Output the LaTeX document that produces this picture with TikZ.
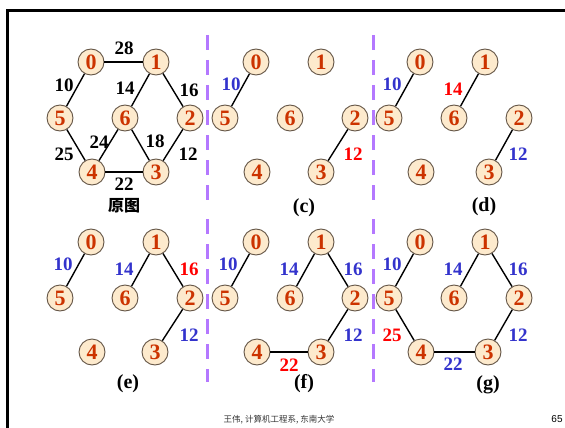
\documentclass[tikz,border=0pt]{standalone}
\usepackage{fontspec}
\setmainfont{Liberation Serif}
\newfontfamily\cjk{Noto Sans CJK SC}
\newfontfamily\arialf{Liberation Sans}
\definecolor{vtxtext}{RGB}{204,51,0}
\definecolor{vtxfill}{RGB}{253,234,205}
\definecolor{vtxline}{RGB}{100,85,70}
\definecolor{lblue}{RGB}{51,51,204}
\definecolor{lred}{RGB}{255,0,0}
\definecolor{dashpurple}{RGB}{180,120,255}
\tikzset{
  vtx/.style={circle,minimum size=26pt,inner sep=0pt,fill=vtxfill,draw=vtxline,line width=0.9pt,
    text=vtxtext,font=\fontsize{22}{22}\selectfont\bfseries},
  edge/.style={line width=1.4pt,black},
  wlbl/.style={font=\fontsize{19}{19}\selectfont\bfseries,inner sep=0pt},
  capbox/.style={font=\fontsize{20}{20}\selectfont\bfseries,inner sep=0pt},
  sepline/.style={dashpurple,line width=3pt,dash pattern=on 15pt off 10pt},
  framestyle/.style={line width=3pt,black}
}
% #1 prefix, #2 dx, #3 dy, #4 x of vertex 3 (relative)
\newcommand\mypanel[4]{%
  \node[vtx] (#1v0) at ({91+#2},{62+#3}) {0};
  \node[vtx] (#1v1) at ({156+#2},{62+#3}) {1};
  \node[vtx] (#1v5) at ({60+#2},{118+#3}) {5};
  \node[vtx] (#1v6) at ({125+#2},{118+#3}) {6};
  \node[vtx] (#1v2) at ({190+#2},{118+#3}) {2};
  \node[vtx] (#1v4) at ({92+#2},{172+#3}) {4};
  \node[vtx] (#1v3) at ({#4+#2},{172+#3}) {3};
}
\begin{document}
\begin{tikzpicture}[x=1pt,y=-1pt]
\useasboundingbox (0,0) rectangle (565,428);
% frame
\coordinate (fa) at (565,11);
\coordinate (fb) at (7,11);
\coordinate (fc) at (7,428);
\draw[framestyle] (fa) -- (fb) -- (fc);
% separators
\coordinate (s1a) at (207,35); \coordinate (s1b) at (207,200);
\coordinate (s2a) at (373,35); \coordinate (s2b) at (373,200);
\coordinate (s3a) at (207,219); \coordinate (s3b) at (207,382);
\coordinate (s4a) at (373,219); \coordinate (s4b) at (373,382);
\draw[sepline] (s1a) -- (s1b);
\draw[sepline] (s2a) -- (s2b);
\draw[sepline] (s3a) -- (s3b);
\draw[sepline] (s4a) -- (s4b);

% ---------- panel A (original) ----------
\mypanel{A}{0}{0}{156}
\draw[edge] (Av0) -- (Av1);
\draw[edge] (Av0) -- (Av5);
\draw[edge] (Av1) -- (Av6);
\draw[edge] (Av1) -- (Av2);
\draw[edge] (Av5) -- (Av4);
\draw[edge] (Av6) -- (Av4);
\draw[edge] (Av6) -- (Av3);
\draw[edge] (Av2) -- (Av3);
\draw[edge] (Av4) -- (Av3);
\node[wlbl] (A28) at (124,48) {28};
\node[wlbl] (A10) at (64,85) {10};
\node[wlbl] (A14) at (125,88) {14};
\node[wlbl] (A16) at (189,90) {16};
\node[wlbl] (A24) at (99,142) {24};
\node[wlbl] (A18) at (155,141) {18};
\node[wlbl] (A25) at (64,154) {25};
\node[wlbl] (A12) at (188,154) {12};
\node[wlbl] (A22) at (124,184) {22};
\node[inner sep=0pt,font=\cjk\bfseries\fontsize{16}{16}\selectfont] (Acap) at (124,206) {原图};

% ---------- panel c ----------
\mypanel{C}{165}{0}{156}
\draw[edge] (Cv0) -- (Cv5);
\draw[edge] (Cv2) -- (Cv3);
\node[wlbl,lblue] (C10) at (231,84) {10};
\node[wlbl,lred] (C12) at (353,154) {12};
\node[capbox] (Ccap) at (304,208) {(c)};

% ---------- panel d ----------
\mypanel{D}{329}{0}{160}
\draw[edge] (Dv0) -- (Dv5);
\draw[edge] (Dv1) -- (Dv6);
\draw[edge] (Dv2) -- (Dv3);
\node[wlbl,lblue] (D10) at (392,84) {10};
\node[wlbl,lred] (D14) at (453,89) {14};
\node[wlbl,lblue] (D12) at (518,154) {12};
\node[capbox] (Dcap) at (484,207) {(d)};

% ---------- panel e ----------
\mypanel{E}{0}{180}{155}
\draw[edge] (Ev0) -- (Ev5);
\draw[edge] (Ev1) -- (Ev6);
\draw[edge] (Ev1) -- (Ev2);
\draw[edge] (Ev2) -- (Ev3);
\node[wlbl,lblue] (E10) at (63,264) {10};
\node[wlbl,lblue] (E14) at (124,269) {14};
\node[wlbl,lred] (E16) at (189,269) {16};
\node[wlbl,lblue] (E12) at (189,335) {12};
\node[capbox] (Ecap) at (128,384) {(e)};

% ---------- panel f ----------
\mypanel{F}{165}{180}{156}
\draw[edge] (Fv0) -- (Fv5);
\draw[edge] (Fv1) -- (Fv6);
\draw[edge] (Fv1) -- (Fv2);
\draw[edge] (Fv2) -- (Fv3);
\draw[edge] (Fv4) -- (Fv3);
\node[wlbl,lblue] (F10) at (228,264) {10};
\node[wlbl,lblue] (F14) at (289,269) {14};
\node[wlbl,lblue] (F16) at (353,269) {16};
\node[wlbl,lblue] (F12) at (353,335) {12};
\node[wlbl,lred] (F22) at (289,365) {22};
\node[capbox] (Fcap) at (304,384) {(f)};

% ---------- panel g ----------
\mypanel{G}{329}{180}{159}
\draw[edge] (Gv0) -- (Gv5);
\draw[edge] (Gv1) -- (Gv6);
\draw[edge] (Gv1) -- (Gv2);
\draw[edge] (Gv2) -- (Gv3);
\draw[edge] (Gv5) -- (Gv4);
\draw[edge] (Gv4) -- (Gv3);
\node[wlbl,lblue] (G10) at (392,264) {10};
\node[wlbl,lblue] (G14) at (453,269) {14};
\node[wlbl,lblue] (G16) at (518,269) {16};
\node[wlbl,lblue] (G12) at (518,335) {12};
\node[wlbl,lred] (G25) at (392,335) {25};
\node[wlbl,lblue] (G22) at (453,364) {22};
\node[capbox] (Gcap) at (488,385) {(g)};

% footer
\node[inner sep=0pt,font=\cjk\fontsize{8.5}{8.5}\selectfont,text=black!80] (foot) at (279,420) {王伟, 计算机工程系, 东南大学};
\node[inner sep=0pt,font=\arialf\fontsize{10}{10}\selectfont] (pg) at (557,419) {65};
\end{tikzpicture}
\end{document}
